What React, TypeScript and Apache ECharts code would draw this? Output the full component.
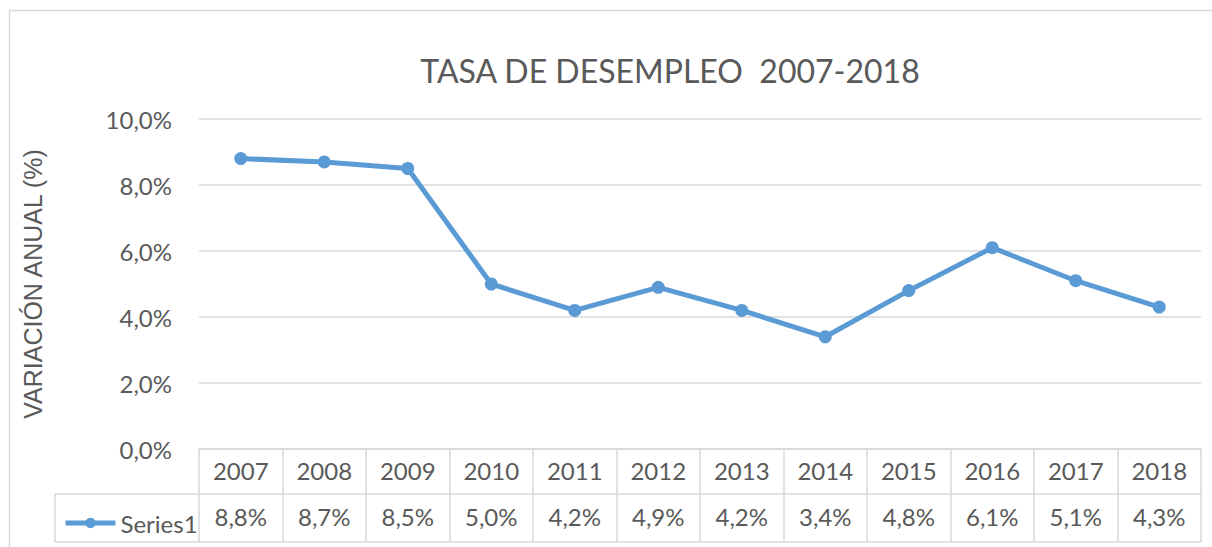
import React, { useEffect, useRef } from "react";
import * as echarts from "echarts";

const years = ["2007", "2008", "2009", "2010", "2011", "2012", "2013", "2014", "2015", "2016", "2017", "2018"];
const values = [8.8, 8.7, 8.5, 5.0, 4.2, 4.9, 4.2, 3.4, 4.8, 6.1, 5.1, 4.3];
const yTicks = [0, 2, 4, 6, 8, 10];
const seriesName = "Series1";
const titleText = "TASA DE DESEMPLEO  2007-2018";
const yName = "VARIACIÓN ANUAL (%)";

const fmt = (v: number) => v.toFixed(1).replace(".", ",") + "%";
const FONT = "Lato, sans-serif";
const TXT = "#595959";
const GRID = "#D9D9D9";
const BLUE = "#5B9BD5";

export default function App() {
  const ref = useRef<HTMLDivElement>(null);
  useEffect(() => {
    document.body.style.margin = "0";
    const chart = echarts.init(ref.current!, null, { renderer: "svg" });
    chart.setOption({
      animation: false,
      backgroundColor: "#fff",
      title: {
        text: titleText,
        left: 665,
        top: 49,
        textAlign: "center",
        textStyle: { fontFamily: FONT, fontSize: 32, fontWeight: "normal", color: TXT },
      },
      legend: {
        left: 58,
        top: 506,
        itemWidth: 50,
        itemHeight: 13,
        itemGap: 0,
        data: [seriesName],
        lineStyle: { width: 5 },
        textStyle: { fontFamily: FONT, fontSize: 24, color: TXT },
      },
      grid: { left: 199, right: 11, top: 119, bottom: 98 },
      xAxis: [
        {
          type: "category",
          data: years,
          position: "bottom",
          boundaryGap: true,
          axisLine: { show: true, lineStyle: { color: GRID, width: 1.5 } },
          axisTick: { show: true, interval: 0, length: 93, lineStyle: { color: GRID, width: 1.5 } },
          axisLabel: { interval: 0, margin: 9, fontFamily: FONT, fontSize: 24, color: TXT },
        },
        {
          type: "category",
          data: values.map(fmt),
          position: "bottom",
          offset: 45,
          boundaryGap: true,
          axisLine: { show: true, lineStyle: { color: GRID, width: 1.5 } },
          axisTick: { show: false },
          axisLabel: { interval: 0, margin: 10, fontFamily: FONT, fontSize: 24, color: TXT },
        },
        {
          type: "category",
          data: years,
          position: "bottom",
          offset: 93,
          boundaryGap: true,
          axisLine: { show: true, lineStyle: { color: GRID, width: 1.5 } },
          axisTick: { show: false },
          axisLabel: { show: false },
        },
      ],
      yAxis: {
        type: "value",
        min: yTicks[0],
        max: yTicks[yTicks.length - 1],
        interval: 2,
        name: yName,
        nameLocation: "middle",
        nameRotate: 90,
        nameGap: 154,
        nameTextStyle: { fontFamily: "'Liberation Sans', Arial, sans-serif", fontSize: 25, color: TXT },
        axisLine: { show: false },
        axisTick: { show: false },
        axisLabel: { margin: 27, fontFamily: FONT, fontSize: 24, color: TXT, formatter: (v: number) => fmt(v) },
        splitLine: { lineStyle: { color: GRID, width: 1.5 } },
      },
      series: [
        {
          name: seriesName,
          type: "line",
          xAxisIndex: 0,
          data: values,
          symbol: "circle",
          symbolSize: 13,
          lineStyle: { color: BLUE, width: 5 },
          itemStyle: { color: BLUE },
        },
      ],
      graphic: [
        {
          type: "polyline",
          shape: { points: [[199, 494], [55, 494], [55, 542], [199, 542]] },
          style: { stroke: GRID, lineWidth: 1.5, fill: "none" },
          silent: true,
        },
        {
          type: "rect",
          shape: { x: 9.5, y: 10.5, width: 1240, height: 600 },
          style: { stroke: GRID, lineWidth: 1.5, fill: "none" },
          silent: true,
        },
      ],
    });
    return () => chart.dispose();
  }, []);
  return <div ref={ref} style={{ width: 1212, height: 547 }} />;
}
